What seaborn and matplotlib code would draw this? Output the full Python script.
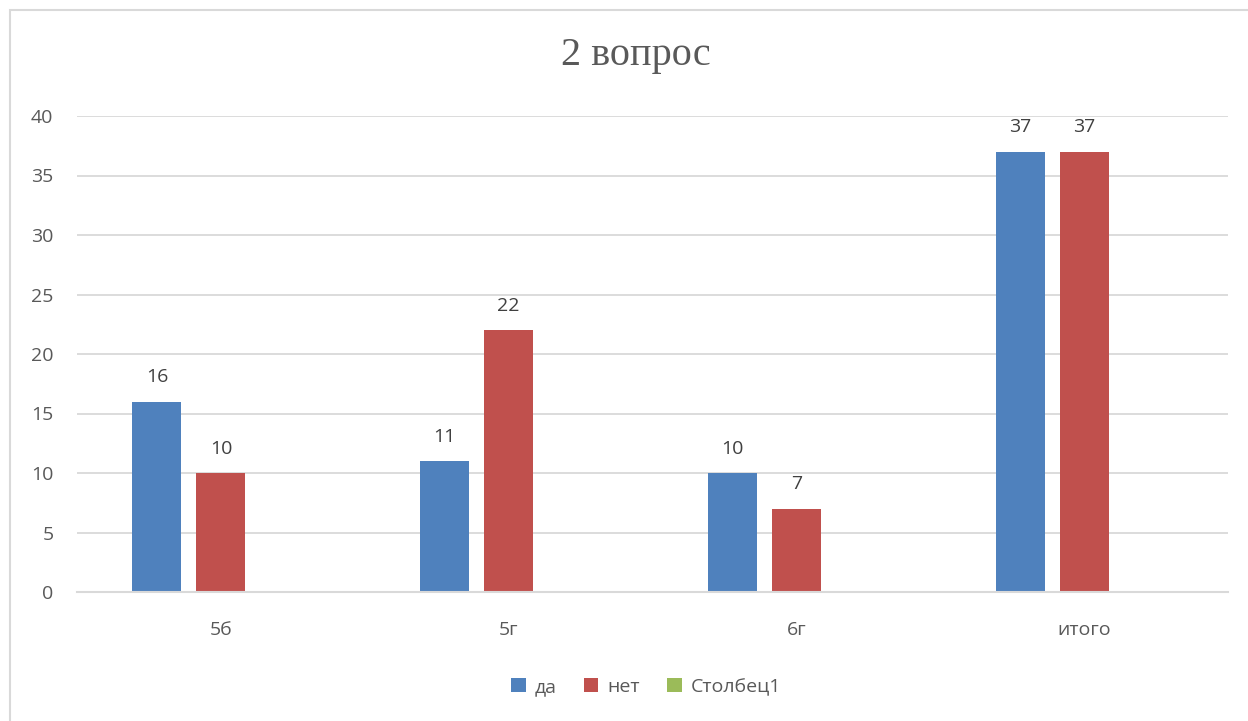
import matplotlib
matplotlib.use("Agg")
import matplotlib.pyplot as plt
from matplotlib.patches import Patch, Rectangle
import numpy as np
import pandas as pd
import seaborn as sns

categories = ["5б", "5г", "6г", "итого"]
series = ["да", "нет", "Столбец1"]
yes_values = [16, 11, 10, 37]
no_values = [10, 22, 7, 37]
col1_values = [np.nan, np.nan, np.nan, np.nan]
colors = ["#4F81BD", "#C0504D", "#9BBB59"]

sns.set_style("white")
plt.rcParams["font.family"] = ["Open Sans", "DejaVu Sans"]

df = pd.DataFrame({
    "cat": categories * 3,
    "series": [s for s in series for _ in categories],
    "value": yes_values + no_values + col1_values,
})

fig = plt.figure(figsize=(12.48, 7.21), dpi=100)
ax = fig.add_axes([77 / 1248, 1 - 592 / 721, (1228 - 77) / 1248, (592 - 116) / 721])

sns.barplot(
    data=df, x="cat", y="value", hue="series",
    order=categories, hue_order=series, palette=colors,
    width=0.667, gap=0.234, legend=False, ax=ax, saturation=1,
    linewidth=0,
)

ax.set_ylim(0, 40)
ax.set_xlim(-0.5, len(categories) - 0.5)
ax.set_yticks(range(0, 41, 5))
ax.yaxis.grid(True, color="#D9D9D9", linewidth=1.3)
ax.set_axisbelow(True)
for side in ["left", "right", "top"]:
    ax.spines[side].set_visible(False)
ax.spines["bottom"].set_color("#D9D9D9")
ax.spines["bottom"].set_linewidth(1.5)
ax.tick_params(axis="y", length=0, pad=17, labelsize=14, labelcolor="#595959")
ax.tick_params(axis="x", length=0, pad=21, labelsize=14, labelcolor="#595959")
ax.set_xlabel("")
ax.set_ylabel("")

for c in ax.containers[:2]:
    ax.bar_label(c, fmt="%d", padding=11, fontsize=14, color="#404040")

fig.text(636 / 1248, 1 - 55 / 721, "2 вопрос", ha="center", va="center",
         fontsize=29, color="#595959", family=["Liberation Serif", "DejaVu Serif"])

handles = [Patch(facecolor=col, edgecolor="none") for col in colors]
fig.legend(handles, series, loc="center", bbox_to_anchor=(646 / 1248, 1 - 687 / 721),
           ncol=3, frameon=False, fontsize=14, labelcolor="#595959",
           handlelength=0.75, handleheight=0.75, handletextpad=0.45, columnspacing=1.4)

fig.patches.append(Rectangle((10 / 1248, -0.1), 1.2, 1 - 10 / 721 + 0.1,
                             transform=fig.transFigure, fill=False,
                             edgecolor="#D9D9D9", linewidth=1.5))

fig.savefig("out.png", dpi=100)
